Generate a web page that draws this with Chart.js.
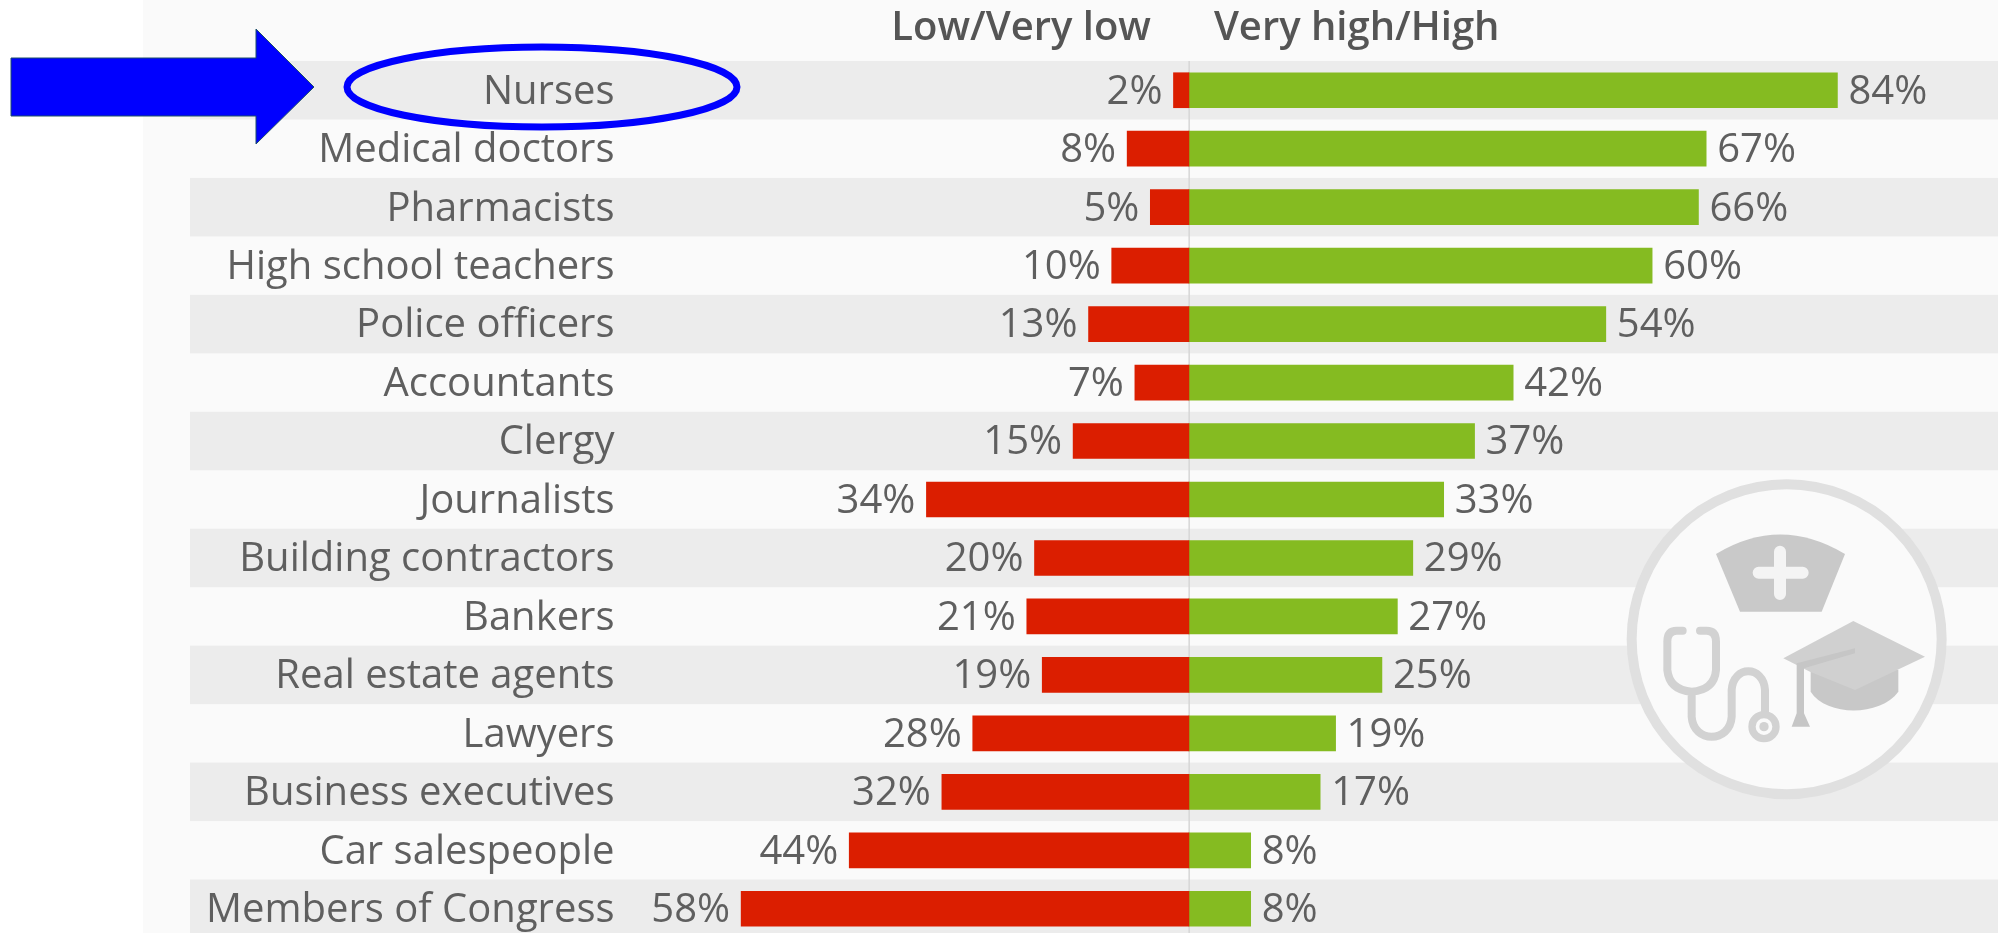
<!DOCTYPE html>
<html><head><meta charset="utf-8">
<script src="https://cdn.jsdelivr.net/npm/chart.js@4"></script>
<style>html,body{margin:0;padding:0;background:#fff;overflow:hidden;width:1998px;height:933px}canvas{display:block}</style>
</head><body><canvas id="c" width="1998" height="962"></canvas>
<script>
const categories = ["Nurses","Medical doctors","Pharmacists","High school teachers","Police officers","Accountants","Clergy","Journalists","Building contractors","Bankers","Real estate agents","Lawyers","Business executives","Car salespeople","Members of Congress"];
const lowValues = [2,8,5,10,13,7,15,34,20,21,19,28,32,44,58];
const highValues = [84,67,66,60,54,42,37,33,29,27,25,19,17,8,8];
const lowLabel = "Low/Very low";
const highLabel = "Very high/High";

const FONT = '"Open Sans"';
const TEXT = '#5f5f5f';

const backdrop = {
  id:'backdrop',
  beforeDraw(ch){
    const c=ch.ctx,y=ch.scales.y,x0=ch.scales.x.getPixelForValue(0);
    c.save();
    c.fillStyle='#fafafa';c.fillRect(143,0,1855,ch.height);
    const step=y.getPixelForValue(1)-y.getPixelForValue(0);
    c.fillStyle='#ececec';
    categories.forEach((_,i)=>{ if(i%2===0) c.fillRect(190,y.getPixelForValue(i)-step/2,1808,step); });
    c.fillStyle='#d6d6d6';c.fillRect(x0-0.5,y.top,1.5,ch.height-y.top);
    c.restore();
    drawLogo(c);
  },
  afterDatasetsDraw(ch){
    const c=ch.ctx,x=ch.scales.x,y=ch.scales.y,x0=x.getPixelForValue(0);
    c.save();
    c.fillStyle=TEXT;c.textBaseline='middle';
    c.font='40px '+FONT;
    categories.forEach((_,i)=>{
      const py=y.getPixelForValue(i)+2;
      c.textAlign='right';c.fillText(lowValues[i]+'%',x.getPixelForValue(-lowValues[i])-11,py);
      c.textAlign='left';c.fillText(highValues[i]+'%',x.getPixelForValue(highValues[i])+11,py);
    });
    c.font='600 40px '+FONT;
    c.fillStyle='#555';
    c.textAlign='right';c.fillText(lowLabel,x0-38,29);
    c.textAlign='left';c.fillText(highLabel,x0+25,29);
    c.restore();
    drawCallout(c);
  }
};

function drawCallout(c){
  c.save();
  c.fillStyle='#0000ff';c.strokeStyle='#1c4f6a';c.lineWidth=1;
  c.beginPath();
  c.moveTo(11,58);c.lineTo(256,58);c.lineTo(256,29);c.lineTo(314,87);c.lineTo(256,144);c.lineTo(256,116);c.lineTo(11,116);
  c.closePath();c.fill();c.stroke();
  c.strokeStyle='#0000ff';c.lineWidth=7;
  c.beginPath();c.ellipse(542,87,195,40,0,0,Math.PI*2);c.stroke();
  c.restore();
}

function drawLogo(c){
  c.save();
  c.translate(1580,460);c.scale(1/3,1/3);
  c.fillStyle='#fafafa';c.strokeStyle='#e0e0e0';c.lineWidth=30;
  c.beginPath();c.arc(620,538,465,0,Math.PI*2);c.fill();c.stroke();
  // nurse cap
  c.fillStyle='#c9c9c9';
  c.beginPath();c.moveTo(408,282);c.quadraticCurveTo(600,165,795,282);c.lineTo(725,455);c.lineTo(480,455);c.closePath();c.fill();
  c.strokeStyle='#f4f4f4';c.lineWidth=36;c.lineCap='round';
  c.beginPath();c.moveTo(600,275);c.lineTo(600,402);c.moveTo(536,338);c.lineTo(668,338);c.stroke();
  // stethoscope
  c.strokeStyle='#d2d2d2';c.lineWidth=24;
  c.beginPath();
  c.moveTo(308,512);c.lineTo(290,512);c.quadraticCurveTo(262,512,262,545);c.lineTo(262,630);
  c.quadraticCurveTo(268,690,335,695);c.quadraticCurveTo(403,690,408,630);c.lineTo(408,545);c.quadraticCurveTo(408,512,380,512);c.lineTo(360,512);
  c.moveTo(335,695);c.lineTo(335,770);c.bezierCurveTo(340,850,450,850,455,770);c.lineTo(455,690);c.bezierCurveTo(460,615,550,615,555,690);c.lineTo(555,760);
  c.stroke();
  c.lineWidth=22;
  c.beginPath();c.arc(552,800,36,0,Math.PI*2);c.stroke();
  c.fillStyle='#d2d2d2';c.beginPath();c.arc(552,800,14,0,Math.PI*2);c.fill();
  // mortarboard
  c.fillStyle='#c8c8c8';
  c.beginPath();c.moveTo(692,630);c.lineTo(955,630);c.lineTo(955,695);c.bezierCurveTo(900,770,740,770,692,695);c.closePath();c.fill();
  c.fillStyle='#d0d0d0';
  c.beginPath();c.moveTo(820,483);c.lineTo(1035,590);c.lineTo(825,690);c.lineTo(690,635);c.lineTo(610,595);c.closePath();c.fill();
  c.fillStyle='#c6c6c6';
  c.beginPath();c.moveTo(650,610);c.lineTo(825,565);c.lineTo(825,580);c.lineTo(672,625);c.lineTo(672,760);c.lineTo(690,800);c.lineTo(635,800);c.lineTo(650,760);c.closePath();c.fill();
  c.restore();
}

new Chart(document.getElementById('c'),{
  type:'bar',
  data:{labels:categories,datasets:[
    {label:lowLabel,data:lowValues.map(v=>-v),backgroundColor:'#db1e00',barThickness:35,borderSkipped:false},
    {label:highLabel,data:highValues,backgroundColor:'#85bb21',barThickness:35,borderSkipped:false}
  ]},
  plugins:[backdrop],
  options:{
    indexAxis:'y',responsive:false,animation:false,
    layout:{autoPadding:false,padding:{top:61,bottom:3,left:0,right:0}},
    plugins:{legend:{display:false},tooltip:{enabled:false},title:{display:false}},
    scales:{
      x:{type:'linear',stacked:true,display:false,min:-154,max:104.8},
      y:{type:'category',stacked:true,position:{x:-74.4},
        grid:{display:false,drawTicks:false},border:{display:false},
        ticks:{autoSkip:false,padding:0,labelOffset:2,color:TEXT,font:{family:FONT,size:40}}}
    }
  }
});
</script></body></html>
